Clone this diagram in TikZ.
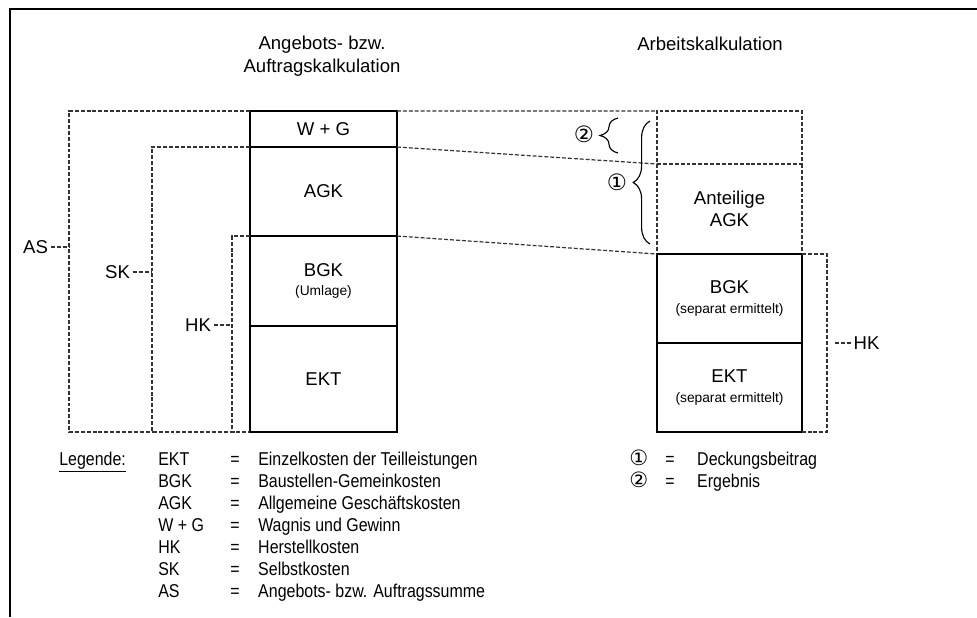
\documentclass[tikz,border=0pt]{standalone}
\usepackage{fontspec}
\setmainfont{Liberation Sans}
\newfontfamily\legfam{Liberation Sans}[FakeStretch=0.86]
\newfontfamily\symfont{DejaVu Sans}
\usetikzlibrary{positioning, calc, decorations.pathreplacing}
\newcommand\cellfont{\fontsize{13.2}{16}\selectfont}
\newcommand\smalltxt{\fontsize{9.8}{12}\selectfont}
\newcommand\legfont{\fontsize{13.2}{15.65}\legfam}
\newcommand\legnum[1]{\smash{\fontsize{15}{15}\symfont #1}}
\tikzset{
  cell/.style={rectangle, draw=black, line width=1.3pt, inner sep=0pt,
               outer sep=0pt, align=center, font=\cellfont},
  dcell/.style={cell, draw=black!80, line width=0.85pt,
                dash pattern=on 2.8pt off 1.4pt},
  dline/.style={draw=black!80, line width=0.85pt,
                dash pattern=on 2.8pt off 1.4pt},
  brc/.style={draw=black, line width=0.8pt, decorate,
              decoration={brace, amplitude=#1}},
  side/.style={font=\cellfont, inner sep=2pt},
}

\begin{document}
\begin{tikzpicture}[x=0.025cm, y=-0.025cm,
  every node/.style={font=\cellfont},
  lcell/.style={cell, minimum width=3.675cm},
  rcell/.style={cell, minimum width=3.625cm},
  head/.style={align=center, inner sep=0pt},
  leg/.style={font=\legfont, inner sep=0pt, anchor=base west},
  num/.style={font=\fontsize{16}{18}\symfont, inner sep=0pt},
]
  \useasboundingbox (0,0) rectangle (977,617);
  % frame
  \draw[line width=2pt] (977,9) -- (10,9) -- (10,617);

  % column titles
  \node[head] (angebot) at (322,56) {Angebots- bzw.\\Auftragskalkulation};
  \node[head, anchor=base] (arbeit) at (710,50.5) {Arbeitskalkulation};

  % Angebots-/Auftragskalkulation
  \node[lcell, minimum height=0.9cm] (wg) at (323.5,129) {W + G};
  \node[lcell, minimum height=2.225cm, below=0pt of wg] (agk) {AGK};
  \node[lcell, minimum height=2.25cm, below=0pt of agk] (bgk)
    {BGK\\[-2pt]{\smalltxt (Umlage)}};
  \node[lcell, minimum height=2.65cm, below=0pt of bgk] (ekt) {EKT};

  % Arbeitskalkulation
  \node[rcell, dcell, minimum height=1.325cm] (rest) at (729.5,137.5) {};
  \node[rcell, draw=none, minimum height=2.25cm, below=0pt of rest] (anteil)
    {Anteilige\\AGK};
  \draw[dline] (anteil.north west) -- (anteil.south west);
  \draw[dline] (anteil.north east) -- (anteil.south east);
  \node[rcell, minimum height=2.225cm, below=0pt of anteil] (bgkr)
    {BGK\\[-2pt]{\smalltxt (separat ermittelt)}};
  \node[rcell, minimum height=2.225cm, below=0pt of bgkr] (ektr)
    {EKT\\[-2pt]{\smalltxt (separat ermittelt)}};

  \draw[dline] (wg.north east) -- (rest.north west);
  \draw[dline] (agk.north east) -- (anteil.north west);
  \draw[dline] (bgk.north east) -- (bgkr.north west);

  % sums
  \coordinate (asx) at (69,0);
  \coordinate (skx) at (152,0);
  \coordinate (hkx) at (232,0);
  \coordinate (rhx) at (827,0);
  \draw[dline] (wg.north west) -| (asx |- ekt.south west) -- (skx |- ekt.south west);
  \draw[dline] (agk.north west) -| (skx |- ekt.south west) -- (hkx |- ekt.south west);
  \draw[dline] (bgk.north west) -| (hkx |- ekt.south west) -- (ekt.south west);
  \draw[dline] (bgkr.north east) -| (rhx |- ektr.south east) -- (ektr.south east);

  \node[side, anchor=east] (as) at (51,247) {AS};
  \node[side, anchor=east] (sk) at (133,272) {SK};
  \node[side, anchor=east] (hk) at (214,325) {HK};
  \node[side, anchor=west, inner sep=1pt] (hkr) at (852,343) {HK};
  \draw[dline] (as.east) -- (as.east -| asx);
  \draw[dline] (sk.east) -- (sk.east -| skx);
  \draw[dline] (hk.east) -- (hk.east -| hkx);
  \coordinate (hkd) at (835,343);
  \draw[dline] (hkd) -- (hkr.west);

  % Deckungsbeitrag / Ergebnis
  \coordinate (b1s) at (650,244);
  \coordinate (b1e) at (650,121);
  \coordinate (b2s) at (618,153);
  \coordinate (b2e) at (618,118);
  \draw[brc=0.42cm] (b1s) -- (b1e);
  \draw[brc=0.45cm] (b2s) -- (b2e);
  \node[num] (db) at (617,182) {①};
  \node[num] (erg) at (584,134) {②};

  % legend
  \node[leg] (legend) at (59,465)
    {\begin{tabular}[t]{@{}p{2.475cm}@{}p{1.8cm}@{}l@{\hspace{0.465cm}}l@{}}
     \underline{Legende:} & EKT & = & Einzelkosten der Teilleistungen\\
      & BGK & = & Baustellen-Gemeinkosten\\
      & AGK & = & Allgemeine Geschäftskosten\\
      & W + G & = & Wagnis und Gewinn\\
      & HK & = & Herstellkosten\\
      & SK & = & Selbstkosten\\
      & AS & = & Angebots- bzw. Auftragssumme
     \end{tabular}};
  \node[leg] (legnums) at (629,465)
    {\begin{tabular}[t]{@{}p{0.9cm}@{}l@{\hspace{0.565cm}}l@{}}
     \legnum{①} & = & Deckungsbeitrag\\
     \legnum{②} & = & Ergebnis
     \end{tabular}};
\end{tikzpicture}
\end{document}
